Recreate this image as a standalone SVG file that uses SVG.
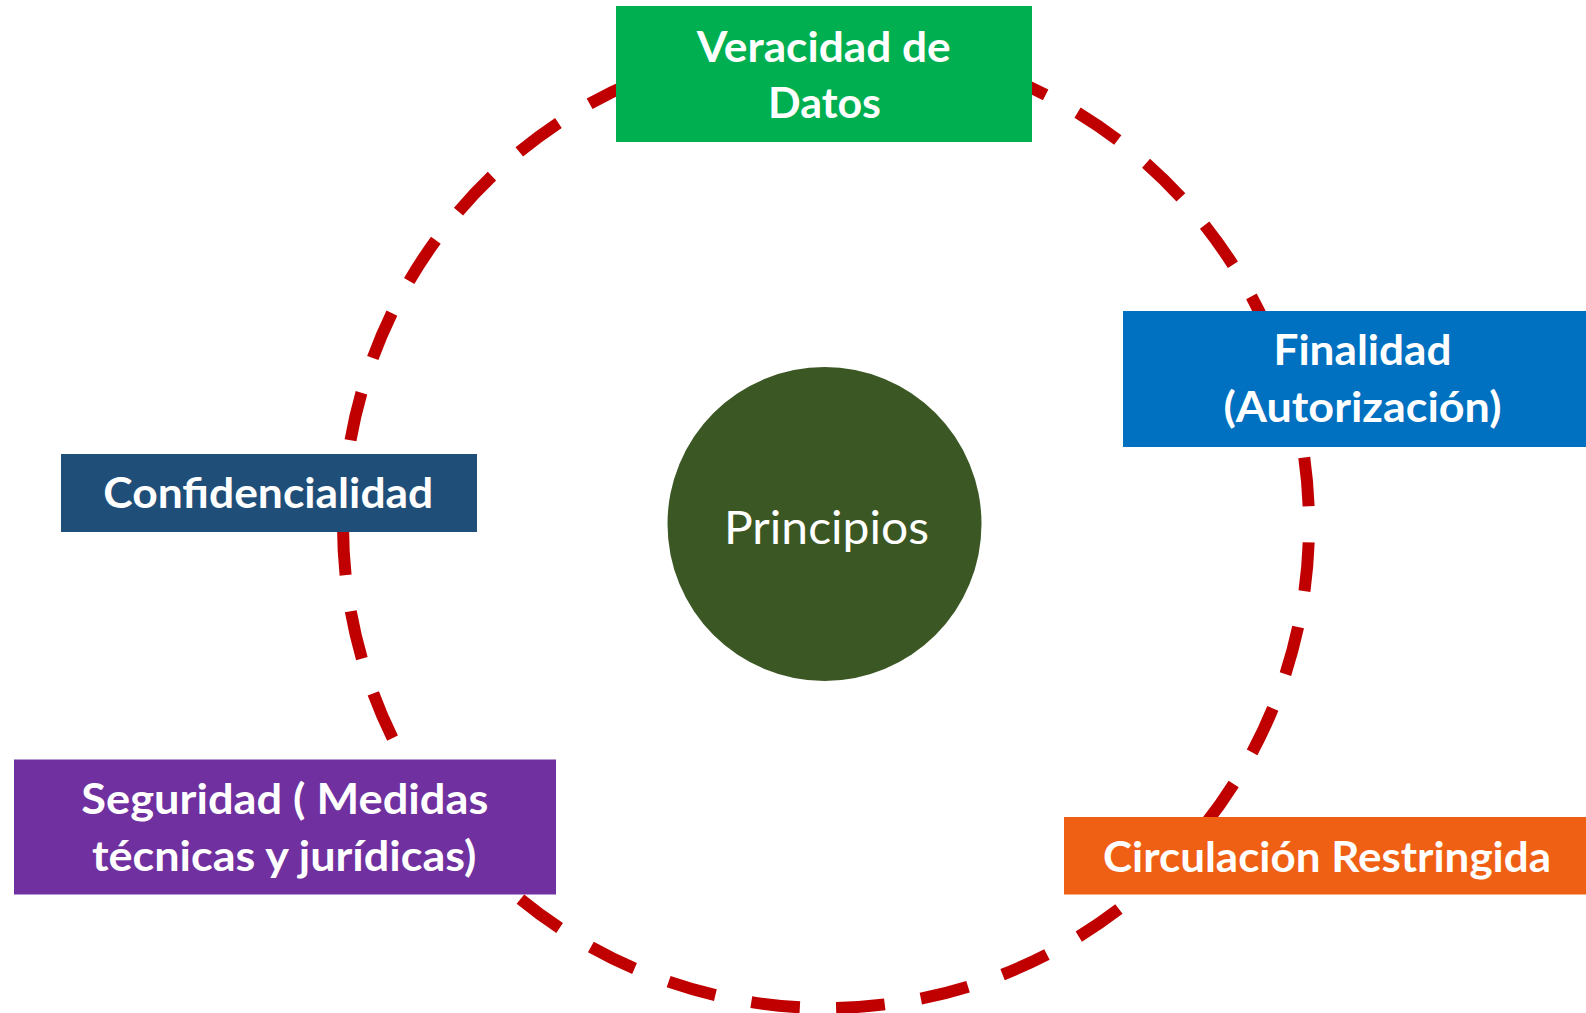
<svg xmlns="http://www.w3.org/2000/svg" width="1586" height="1013" viewBox="0 0 1586 1013">
  <style>
    .lbl { font-family: Lato, "Open Sans", "Liberation Sans", sans-serif; font-weight: 700; font-size: 42px; fill: #FFFFFF; text-anchor: middle; }
    .center { font-family: Lato, "Open Sans", "Liberation Sans", sans-serif; font-weight: 400; font-size: 45.5px; fill: #FFFFFF; text-anchor: middle; }
    .ring { fill: none; stroke: #C00000; stroke-width: 12; stroke-dasharray: 48.7 36.56; stroke-linecap: butt; }
  </style>
  <rect width="1586" height="1013" fill="#FFFFFF"/>
  <g id="connectors">
    <path class="ring" d="M 343 525 A 483 483 0 1 1 1309 525 A 483 483 0 1 1 343 525"/>
  </g>
  <g id="node-principios">
    <circle cx="824.5" cy="524" r="157" fill="#3B5724"/>
    <text class="center" x="826.5" y="544.3" textLength="205" lengthAdjust="spacingAndGlyphs">Principios</text>
  </g>
  <g id="node-veracidad">
    <rect x="616" y="6" width="416" height="136" fill="#00B050"/>
    <text class="lbl" x="823.7" y="61.7" textLength="254" lengthAdjust="spacingAndGlyphs">Veracidad de</text>
    <text class="lbl" x="824.5" y="118.3" textLength="113" lengthAdjust="spacingAndGlyphs">Datos</text>
  </g>
  <g id="node-finalidad">
    <rect x="1123" y="311" width="479" height="136" fill="#0070C0"/>
    <text class="lbl" x="1362.5" y="364.5" textLength="178" lengthAdjust="spacingAndGlyphs">Finalidad</text>
    <text class="lbl" x="1362.5" y="422" textLength="278" lengthAdjust="spacingAndGlyphs">(Autorización)</text>
  </g>
  <g id="node-confidencialidad">
    <rect x="61" y="454" width="416" height="78" fill="#1F4E79"/>
    <text class="lbl" x="268.3" y="508.3" textLength="330" lengthAdjust="spacingAndGlyphs">Confidencialidad</text>
  </g>
  <g id="node-seguridad">
    <rect x="14" y="759.5" width="542" height="135" fill="#7030A0"/>
    <text class="lbl" x="284.8" y="814" textLength="407" lengthAdjust="spacingAndGlyphs">Seguridad ( Medidas</text>
    <text class="lbl" x="284.2" y="871" textLength="384.5" lengthAdjust="spacingAndGlyphs">técnicas y jurídicas)</text>
  </g>
  <g id="node-circulacion">
    <rect x="1064" y="817" width="526" height="77.5" fill="#F06014"/>
    <text class="lbl" x="1327" y="871.5" textLength="448" lengthAdjust="spacingAndGlyphs">Circulación Restringida</text>
  </g>
</svg>
